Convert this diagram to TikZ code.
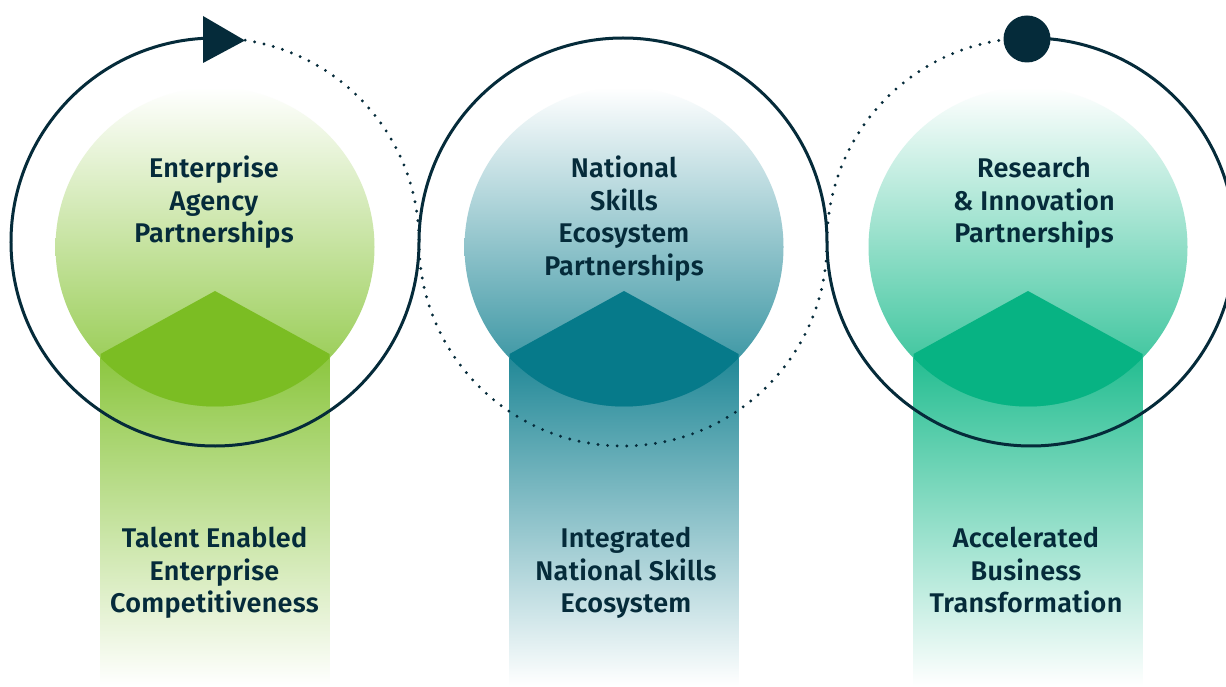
\documentclass[tikz,border=0pt]{standalone}
\usepackage{fontspec}
\setmainfont{Fira Sans}[UprightFont=* SemiBold, LetterSpace=1]
\usetikzlibrary{calc}
\definecolor{ink}{HTML}{052B3A}
\definecolor{baseA}{HTML}{8BC63E}
\definecolor{overA}{HTML}{7BBD23}
\definecolor{baseB}{HTML}{1F8796}
\definecolor{overB}{HTML}{067A8A}
\definecolor{baseC}{HTML}{22BD90}
\definecolor{overC}{HTML}{07B383}
\tikzset{
  ringline/.style={draw=ink, line width=3pt},
  dotline/.style={draw=ink, line width=3.2pt, line cap=round, dash pattern=on 0pt off 9.6pt},
  lbl/.style={text=ink, align=center, anchor=base, inner sep=0pt, font=\fontsize{27}{32.5}\selectfont},
}
\begin{document}
\begin{tikzpicture}[x=1pt,y=1pt]
\useasboundingbox (0,0) rectangle (1226,686);
\clip (0,0) rectangle (1226,686);
\fill[white] (0,0) rectangle (1226,686);
% pillars and circles
\foreach \cx/\bc/\oc in {215/baseA/overA, 624/baseB/overB, 1028/baseC/overC}{
  \shade[top color=\bc, bottom color=white] (\cx-114.5,0) rectangle (\cx+114.5,332);
  \shade[top color=white, bottom color=\bc] (\cx,439) circle[radius=159.5];
  \begin{scope}
    \clip (\cx,439) circle[radius=159.5];
    \fill[\oc] (\cx-114.5,332) -- (\cx,395) -- (\cx+114.5,332) -- (\cx+114.5,0) -- (\cx-114.5,0) -- cycle;
  \end{scope}
}
% rings
\coordinate (L) at (215,444);
\coordinate (M) at (623,444);
\coordinate (R) at (1031,444);
\draw[ringline] ($(L)+(93:204)$) arc[start angle=93, end angle=360, radius=204]
  arc[start angle=180, end angle=0, radius=204]
  arc[start angle=180, end angle=451, radius=204];
\draw[dotline] ($(L)+(81.5:204)$) arc[start angle=81.5, end angle=0, radius=204]
  arc[start angle=180, end angle=360, radius=204]
  arc[start angle=180, end angle=93, radius=204];
\fill[ink] (203,670) -- (245,645.5) -- (203,623) -- cycle;
\fill[ink] (1027,647) circle[radius=23.5];
% labels
\node[lbl] (t1) at (214,443) {Enterprise\\Agency\\Partnerships};
\node[lbl] (t2) at (624,410.5) {National\\Skills\\Ecosystem\\Partnerships};
\node[lbl] (t3) at (1034,443) {Research\\\& Innovation\\Partnerships};
\node[lbl] (b1) at (214.5,73.5) {Talent Enabled\\Enterprise\\Competitiveness};
\node[lbl] (b2) at (626,73.5) {Integrated\\National Skills\\Ecosystem};
\node[lbl] (b3) at (1026,73.5) {Accelerated\\Business\\Transformation};
\end{tikzpicture}
\end{document}
